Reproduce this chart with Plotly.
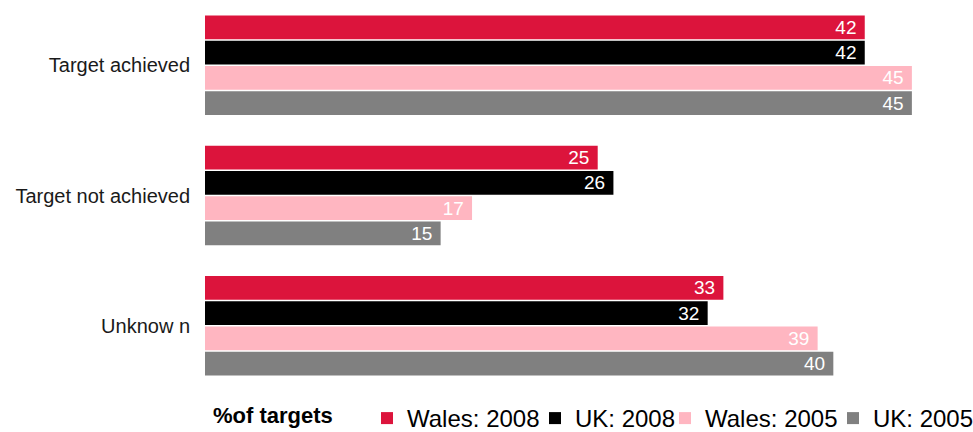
import plotly.graph_objects as go

# Categories (top to bottom) and series values, % of targets
categories = ["Target achieved", "Target not achieved", "Unknow n"]
series_names = ["Wales: 2008", "UK: 2008", "Wales: 2005", "UK: 2005"]
wales_2008 = [42, 25, 33]
uk_2008 = [42, 26, 32]
wales_2005 = [45, 17, 39]
uk_2005 = [45, 15, 40]
series_values = [wales_2008, uk_2008, wales_2005, uk_2005]
series_colors = ["#DC143C", "#000000", "#FFB6C1", "#808080"]

FONT = "Liberation Sans, Arial, sans-serif"
W, H = 973, 432

# each series gets its own legend box so the entries sit tight in one row
legend_ids = ["legend", "legend2", "legend3", "legend4"]
legend_left_px = [367, 535, 665, 833]

fig = go.Figure()
for name, vals, col, lid in zip(series_names, series_values, series_colors, legend_ids):
    fig.add_trace(go.Bar(
        y=categories,
        x=vals,
        name=name,
        orientation="h",
        marker=dict(color=col, line=dict(width=0)),
        text=[f"{v}&nbsp;" for v in vals],
        textposition="inside",
        insidetextanchor="end",
        constraintext="none",
        textfont=dict(family=FONT, size=19, color="white"),
        hoverinfo="skip",
        legend=lid,
    ))

legend_common = dict(
    orientation="h",
    xref="container",
    yref="container",
    y=1 - 418.5 / H,
    xanchor="left",
    yanchor="middle",
    font=dict(family=FONT, size=24, color="#000000"),
    bgcolor="rgba(0,0,0,0)",
    borderwidth=0,
)
legend_layout = {
    lid: dict(legend_common, x=px / W) for lid, px in zip(legend_ids, legend_left_px)
}

fig.update_layout(
    width=W,
    height=H,
    margin=dict(l=205, r=14, t=0, b=41),
    paper_bgcolor="white",
    plot_bgcolor="white",
    barmode="group",
    bargap=0.225,
    bargroupgap=0.06,
    font=dict(family=FONT, color="#1a1a1a"),
    xaxis=dict(range=[0, 48], visible=False, showgrid=False, zeroline=False),
    yaxis=dict(
        autorange="reversed",
        showgrid=False,
        zeroline=False,
        showline=False,
        ticks="",
        ticklabelstandoff=14,
        tickfont=dict(family=FONT, size=20, color="#1a1a1a"),
    ),
    showlegend=True,
    **legend_layout,
)

fig.add_annotation(
    text="<b>%of targets</b>",
    xref="paper", yref="paper",
    x=0.008, y=(391 - 415) / 391,
    xanchor="left", yanchor="middle",
    showarrow=False,
    font=dict(family=FONT, size=22, color="#000000"),
)

fig.write_html("out.html")
